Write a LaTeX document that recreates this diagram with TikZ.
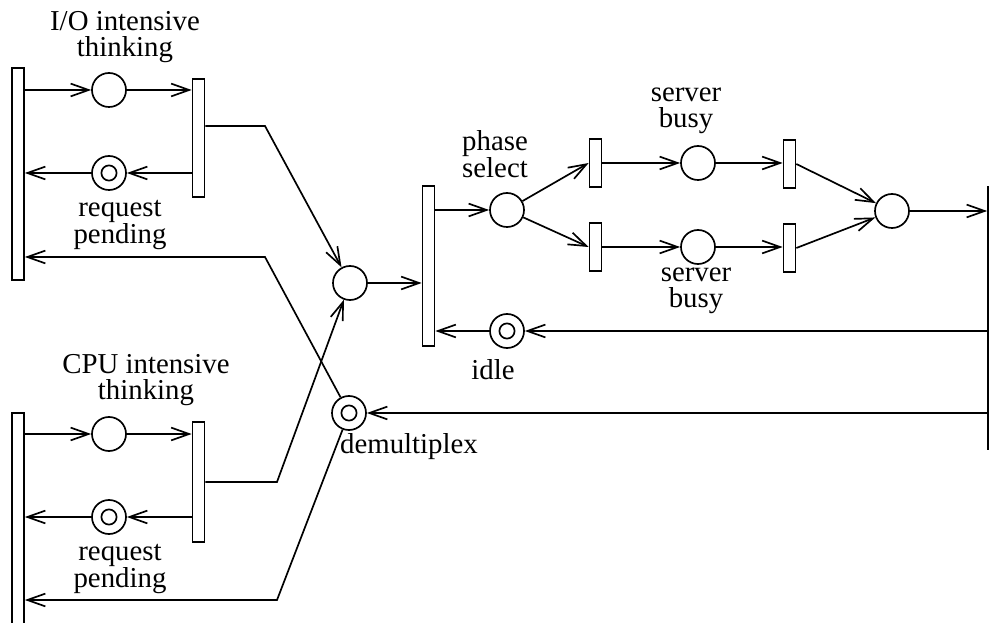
\documentclass[tikz,border=0pt]{standalone}
\usepackage{fontspec}
\setmainfont{Liberation Serif}
\usetikzlibrary{arrows.meta}
\tikzset{
  every picture/.style={line width=1.2pt, font=\fontsize{20.5}{18.5}\selectfont},
  place/.style={draw, circle, minimum size=8.5mm, inner sep=0pt, fill=white},
  token/.style={place, path picture={\draw (path picture bounding box.center) circle (1.9mm);}},
  bar/.style={draw, rectangle, minimum width=3mm, minimum height=12mm, inner sep=0pt, fill=white},
  flow/.style={-{Straight Barb[length=4.5mm,width=3.2mm]}},
  lbl/.style={align=center, inner sep=0pt},
}

\begin{document}
\begin{tikzpicture}[x=0.025cm, y=-0.025cm]
  \useasboundingbox (0,0) rectangle (989,623);
  % I/O intensive loop
  \node[bar, minimum height=53mm] (A) at (18,174) {};
  \node[place] (B) at (109,90) {};
  \node[bar, minimum height=29.5mm] (C) at (198.5,138) {};
  \node[token] (D) at (109,173) {};
  % CPU intensive loop
  \node[bar, minimum height=54.5mm] (E) at (18,522) {};
  \node[place] (F) at (109,434) {};
  \node[bar, minimum height=30mm] (G) at (198.5,482) {};
  \node[token] (H) at (109,517) {};
  % server
  \node[place] (M) at (350,283) {};
  \node[token] (X) at (349,413) {};
  \node[bar, minimum height=40mm] (J) at (428.5,266) {};
  \node[place] (P) at (507,210) {};
  \node[bar] (Ka) at (595.5,163) {};
  \node[bar] (Kb) at (595.5,247) {};
  \node[place] (Sa) at (698,163) {};
  \node[place] (Sb) at (698,247) {};
  \node[bar] (La) at (789.5,164) {};
  \node[bar] (Lb) at (789.5,248) {};
  \node[place] (N) at (892,211) {};
  \node[bar, minimum height=65.5mm] (R) at (994,318) {};
  \node[token] (I) at (507,331) {};
  % bends
  \coordinate (c1) at (265,126);
  \coordinate (c2) at (265,257);
  \coordinate (c3) at (277,482);
  \coordinate (c4) at (277,600);
  % arcs
  \draw[flow] (A.east |- B) -- (B);
  \draw[flow] (B) -- (B -| C.west);
  \draw[flow] (C.west |- D) -- (D);
  \draw[flow] (D) -- (D -| A.east);
  \draw[flow] (E.east |- F) -- (F);
  \draw[flow] (F) -- (F -| G.west);
  \draw[flow] (G.west |- H) -- (H);
  \draw[flow] (H) -- (H -| E.east);
  \draw[flow] (C.east |- c1) -- (c1) -- (M);
  \draw[flow] (X) -- (c2) -- (c2 -| A.east);
  \draw[flow] (G.east |- c3) -- (c3) -- (M);
  \draw[flow] (X) -- (c4) -- (c4 -| E.east);
  \draw[flow] (M) -- (M -| J.west);
  \draw[flow] (J.east |- P) -- (P);
  \draw[flow] (P) -- (Ka.west);
  \draw[flow] (P) -- (Kb.west);
  \draw[flow] (Ka) -- (Sa);
  \draw[flow] (Kb) -- (Sb);
  \draw[flow] (Sa) -- (Sa -| La.west);
  \draw[flow] (Sb) -- (Sb -| Lb.west);
  \draw[flow] (La.east) -- (N);
  \draw[flow] (Lb.east) -- (N);
  \draw[flow] (N) -- (N -| R.west);
  \draw[flow] (R.west |- I) -- (I);
  \draw[flow] (I) -- (I -| J.east);
  \draw[flow] (R.west |- X) -- (X);
  % labels
  \node[lbl] (lB) at (125,37) {I/O intensive\\thinking};
  \node[lbl] (lD) at (120,225) {request\\pending};
  \node[lbl] (lF) at (146,380) {CPU intensive\\thinking};
  \node[lbl] (lH) at (120,569) {request\\pending};
  \node[lbl] (lX) at (409,447) {demultiplex};
  \node[lbl] (lP) at (495,154) {phase\\select};
  \node[lbl] (lSa) at (686,111) {server\\busy};
  \node[lbl] (lSb) at (696,291) {server\\busy};
  \node[lbl] (lI) at (493,370) {idle};
\end{tikzpicture}
\end{document}
